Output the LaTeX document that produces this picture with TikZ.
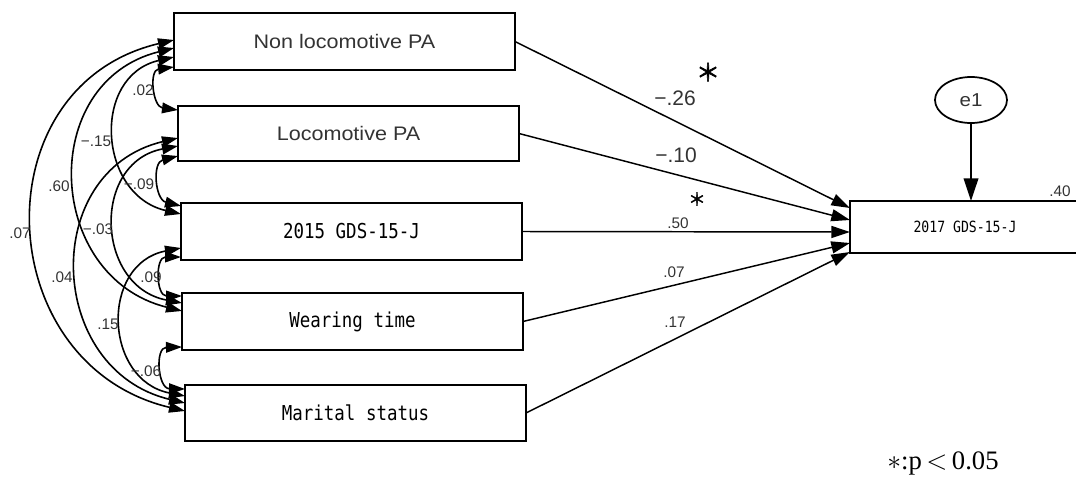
\documentclass[tikz,border=0pt]{standalone}
\usepackage{fontspec}
\setmainfont{Liberation Sans}
\newfontfamily\boxsans[FakeStretch=1.1]{Liberation Sans}
\newfontfamily\gothmono[FakeStretch=0.85]{DejaVu Sans Mono}
\newfontfamily\cjk[FakeBold=2.5]{Noto Sans CJK JP}
\newfontfamily\notefont{Liberation Serif}
\usetikzlibrary{arrows.meta,calc,shapes.geometric}
\definecolor{ink}{HTML}{333333}

% double-headed covariance arc bulging to the left
\newcommand\covarc[4]{%
  \draw[cov] (#1) .. controls ($(#1)+(-#3,#4)$) and ($(#2)+(-#3,-#4)$) .. (#2);}

\tikzset{
  box/.style={draw=black, line width=1.4pt, inner sep=0pt, outer sep=0pt,
              minimum width=255.75pt},
  sanstxt/.style={font=\boxsans\fontsize{14.7pt}{17pt}\selectfont, text=ink},
  monotxt/.style={font=\gothmono\fontsize{15.4pt}{18pt}\selectfont, text=black},
  smallmono/.style={font=\gothmono\fontsize{11.6pt}{14pt}\selectfont, text=black},
  covlbl/.style={font=\fontsize{11.5pt}{13pt}\selectfont, text=ink, inner sep=0pt},
  pathlbl/.style={font=\fontsize{11.5pt}{13pt}\selectfont, text=ink, inner sep=0pt},
  biglbl/.style={font=\fontsize{15.75pt}{18pt}\selectfont, text=ink, inner sep=0pt},
  star/.style={font=\cjk\fontsize{#1}{#1}\selectfont, inner sep=0pt},
  cov/.style={line width=1.2pt,
    arrows={Triangle[length=12pt,width=8pt]-Triangle[length=12pt,width=8pt]}},
  reg/.style={line width=1.1pt, arrows={-Triangle[length=14pt,width=9pt]}},
  errpath/.style={line width=1.2pt, arrows={-Triangle[length=17pt,width=11pt]}},
}

\begin{document}
\begin{tikzpicture}[x=0.75pt,y=-0.75pt]
\useasboundingbox (0,0) rectangle (1076,479);

% observed variables
\node[box, minimum height=42.75pt, sanstxt] (b1) at (344.5,41.5) {Non locomotive PA};
\node[box, minimum height=41.25pt, sanstxt] (b2) at (348.5,133.5) {Locomotive PA};
\node[box, minimum height=42.75pt, monotxt] (b3) at (351.5,231.5) {2015 GDS-15-J};
\node[box, minimum height=42.75pt, monotxt] (b4) at (352.5,321.5) {Wearing time};
\node[box, minimum height=42pt, monotxt] (b5) at (355.5,413) {Marital status};

% outcome and its error term
\node[box, minimum width=172.5pt, minimum height=39pt, smallmono] (b6) at (965,227) {2017 GDS-15-J};
\node[draw, ellipse, line width=1.3pt, minimum width=54pt, minimum height=34.5pt,
      inner sep=0pt, sanstxt, font=\boxsans\fontsize{14pt}{16pt}\selectfont] (e1) at (971,100) {e1};
\node[pathlbl] (r2) at (1060,191) {.40};
\draw[errpath] (e1.south) -- (e1.south |- b6.north);

% arc end points on the left edges
\coordinate (a15) at ($(b1.north west)+(0,27)$);
\coordinate (a14) at ($(b1.north west)+(0,35)$);
\coordinate (a13) at ($(b1.north west)+(0,44)$);
\coordinate (a12) at ($(b1.north west)+(0,54)$);
\coordinate (z12) at ($(b2.north west)+(0,4)$);
\coordinate (a25) at ($(b2.north west)+(0,32)$);
\coordinate (a24) at ($(b2.north west)+(0,40)$);
\coordinate (a23) at ($(b2.north west)+(0,50)$);
\coordinate (z23) at ($(b3.north west)+(0,3)$);
\coordinate (z13) at ($(b3.north west)+(0,11)$);
\coordinate (a35) at ($(b3.north west)+(0,45)$);
\coordinate (a34) at ($(b3.north west)+(0,54)$);
\coordinate (z34) at ($(b4.north west)+(0,3)$);
\coordinate (z24) at ($(b4.north west)+(0,10)$);
\coordinate (z14) at ($(b4.north west)+(0,18)$);
\coordinate (a45) at ($(b4.north west)+(0,54)$);
\coordinate (z45) at ($(b5.north west)+(0,4)$);
\coordinate (z35) at ($(b5.north west)+(0,11)$);
\coordinate (z25) at ($(b5.north west)+(0,18)$);
\coordinate (z15) at ($(b5.north west)+(0,26)$);

% covariances
\covarc{a12}{z12}{25.3}{3.3}
\covarc{a23}{z23}{26}{6.5}
\covarc{a34}{z34}{26}{0}
\covarc{a45}{z45}{27.3}{0.5}
\covarc{a13}{z13}{83}{19}
\covarc{a24}{z24}{86.7}{16.5}
\covarc{a35}{z35}{81.3}{15.8}
\covarc{a14}{z14}{137}{34}
\covarc{a25}{z25}{139}{33}
\covarc{a15}{z15}{195}{46}

\node[covlbl] (l12) at (143,90) {.02};
\node[covlbl] (l13) at (96,141) {−.15};
\node[covlbl] (l14) at (59,186) {.60};
\node[covlbl] (l23) at (139,184) {−.09};
\node[covlbl] (l15) at (20,233) {.07};
\node[covlbl] (l24) at (98,229) {−.03};
\node[covlbl] (l25) at (62,277) {.04};
\node[covlbl] (l34) at (151,277) {.09};
\node[covlbl] (l35) at (108,324) {.15};
\node[covlbl] (l45) at (146,371) {−.06};

% regression paths
\coordinate (t1) at ($(b6.north west)+(0,7)$);
\coordinate (t2) at ($(b6.north west)+(0,19)$);
\coordinate (t3) at ($(b6.north west)+(0,31)$);
\coordinate (t4) at ($(b6.north west)+(0,42)$);
\coordinate (t5) at ($(b6.north west)+(0,51)$);
\draw[reg] (b1.east) -- (t1);
\draw[reg] (b2.east) -- (t2);
\draw[reg] (b3.east) -- (t3);
\draw[reg] (b4.east) -- (t4);
\draw[reg] (b5.east) -- (t5);

\node[biglbl] (p1) at (675,98) {−.26};
\node[star=18pt] (s1) at (708,72) {＊};
\node[biglbl] (p2) at (676,155) {−.10};
\node[star=13pt] (s2) at (697,199) {＊};
\node[pathlbl] (p3) at (678,223) {.50};
\node[pathlbl] (p4) at (674,272) {.07};
\node[pathlbl] (p5) at (675,322) {.17};

% significance note
\node[font=\notefont\fontsize{20pt}{24pt}\selectfont, inner sep=0pt] (note) at (943,463)
  {$\ast$:p\,$<$\,0.05};
\end{tikzpicture}
\end{document}
